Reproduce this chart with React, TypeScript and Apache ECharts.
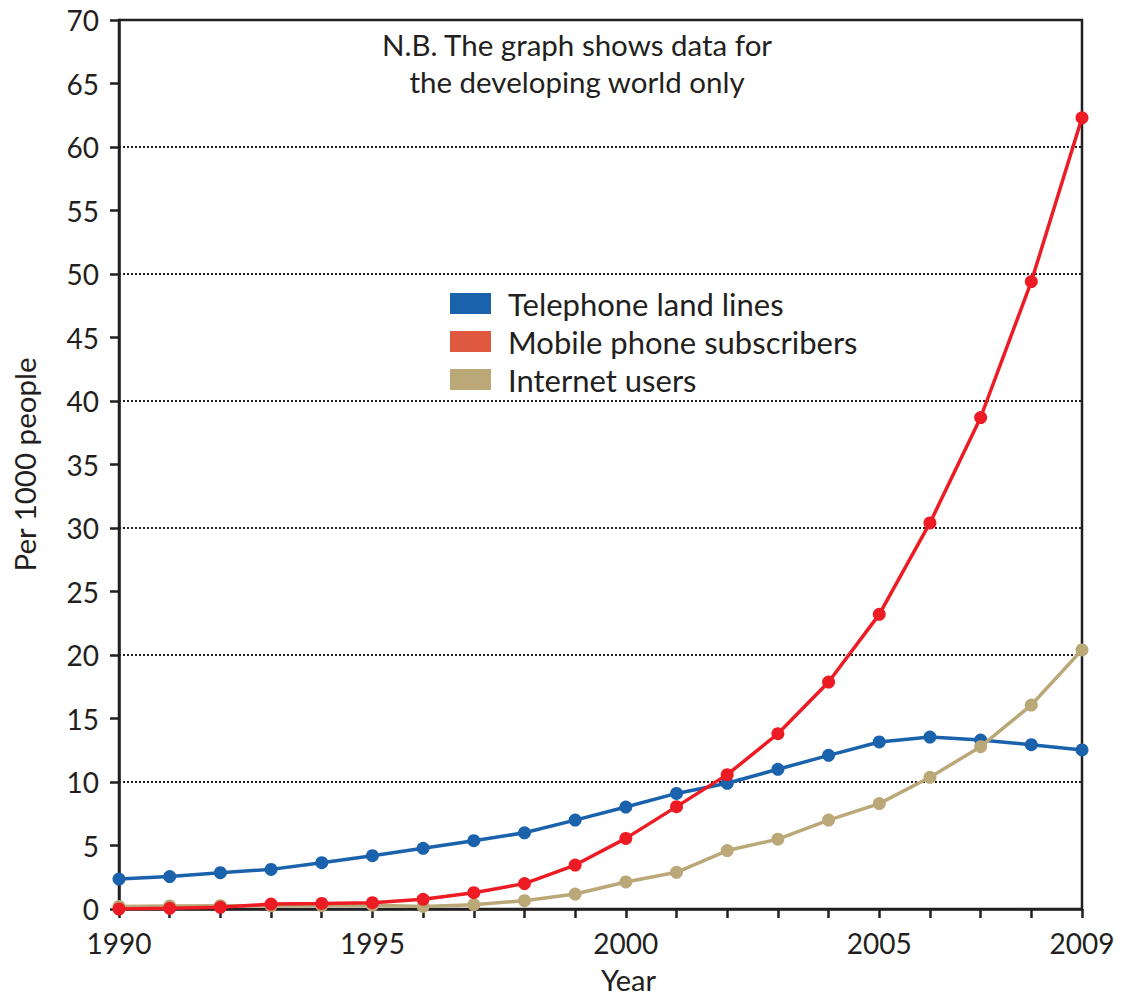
import React, { useEffect, useRef } from "react";
import * as echarts from "echarts";

const years = ["1990","1991","1992","1993","1994","1995","1996","1997","1998","1999","2000","2001","2002","2003","2004","2005","2006","2007","2008","2009"];
const landLines = [2.36,2.55,2.86,3.12,3.65,4.2,4.78,5.38,6.0,7.0,8.03,9.1,9.9,11.0,12.1,13.15,13.54,13.3,12.94,12.52];
const mobile = [0,0.05,0.13,0.39,0.44,0.5,0.76,1.28,2.0,3.46,5.56,8.06,10.58,13.8,17.87,23.2,30.4,38.7,49.4,62.3];
const internet = [0.2,0.24,0.26,0.25,0.27,0.3,0.2,0.34,0.65,1.18,2.13,2.89,4.6,5.5,7.0,8.3,10.37,12.78,16.06,20.4];
const yTicks = [0,5,10,15,20,25,30,35,40,45,50,55,60,65,70];
const shownYears = ["1990","1995","2000","2005","2009"];

const FONT = "Lato";
const INK = "#231f20";

export default function App() {
  const ref = useRef<HTMLDivElement>(null);
  useEffect(() => {
    const chart = echarts.init(ref.current!, null, { renderer: "svg" });
    chart.setOption({
      animation: false,
      backgroundColor: "#ffffff",
      textStyle: { fontFamily: FONT },
      grid: {
        left: 119, right: 40, top: 20, bottom: 89,
        outerBoundsMode: "none",
        containLabel: false,
        show: true, borderColor: INK, borderWidth: 2.5, backgroundColor: "transparent",
      },
      legend: {
        orient: "vertical",
        left: 450,
        top: 288,
        padding: 0,
        icon: "rect",
        itemWidth: 41,
        itemHeight: 21,
        itemGap: 7,
        textStyle: { fontSize: 31, color: INK, fontFamily: FONT, padding: [0, 0, 0, 12] },
        data: [
          { name: "Telephone land lines", itemStyle: { color: "#1b62ad" } },
          { name: "Mobile phone subscribers", itemStyle: { color: "#df5a40" } },
          { name: "Internet users", itemStyle: { color: "#bba878" } },
        ],
      },
      graphic: [
        {
          type: "text",
          x: 577,
          y: 26,
          style: {
            text: "N.B. The graph shows data for\nthe developing world only",
            fill: INK,
            font: `29.5px ${FONT}`,
            textAlign: "center",
            lineHeight: 37,
          },
        },
      ],
      xAxis: {
        type: "category",
        data: years,
        boundaryGap: false,
        name: "Year",
        nameLocation: "middle",
        nameGap: 56,
        nameTextStyle: { fontSize: 29, color: INK, fontFamily: FONT, padding: [0, 0, 0, 56] },
        axisLine: { lineStyle: { color: INK, width: 2.5 } },
        axisTick: { show: true, interval: 0, length: 9, lineStyle: { color: INK, width: 2.5 } },
        axisLabel: {
          interval: 0,
          formatter: (v: string) => (shownYears.includes(v) ? v : ""),
          fontSize: 28,
          color: INK,
          margin: 20,
          fontFamily: FONT,
        },
        splitLine: { show: false },
      },
      yAxis: [
        {
          type: "value",
          min: yTicks[0],
          max: yTicks[yTicks.length - 1],
          interval: 5,
          name: "Per 1000 people",
          nameLocation: "middle",
          nameGap: 80,
          nameTextStyle: { fontSize: 29.5, color: INK, fontFamily: FONT },
          axisLine: { show: true, lineStyle: { color: INK, width: 2.5 } },
          axisTick: { show: true, length: 9, lineStyle: { color: INK, width: 2.5 } },
          axisLabel: { fontSize: 28, color: INK, margin: 20, fontFamily: FONT },
          splitLine: { show: false },
        },
        {
          type: "value",
          min: 0,
          max: 70,
          interval: 10,
          position: "left",
          axisLine: { show: false },
          axisTick: { show: false },
          axisLabel: { show: false },
          splitLine: { show: true, lineStyle: { color: INK, width: 2, type: [2, 2] } },
        },
      ],
      series: [
        {
          name: "Telephone land lines",
          type: "line",
          data: landLines,
          symbol: "circle",
          symbolSize: 13,
          itemStyle: { color: "#1b62ad" },
          lineStyle: { color: "#1b62ad", width: 3.5 },
          z: 3,
        },
        {
          name: "Internet users",
          type: "line",
          data: internet,
          symbol: "circle",
          symbolSize: 13,
          itemStyle: { color: "#bba878" },
          lineStyle: { color: "#bba878", width: 3.5 },
          z: 4,
        },
        {
          name: "Mobile phone subscribers",
          type: "line",
          data: mobile,
          symbol: "circle",
          symbolSize: 13,
          itemStyle: { color: "#ed1c24" },
          lineStyle: { color: "#ed1c24", width: 3.5 },
          z: 5,
        },
      ],
    });
    return () => chart.dispose();
  }, []);
  return <div ref={ref} style={{ position: "fixed", left: 0, top: 0, width: 1122, height: 998 }} />;
}
